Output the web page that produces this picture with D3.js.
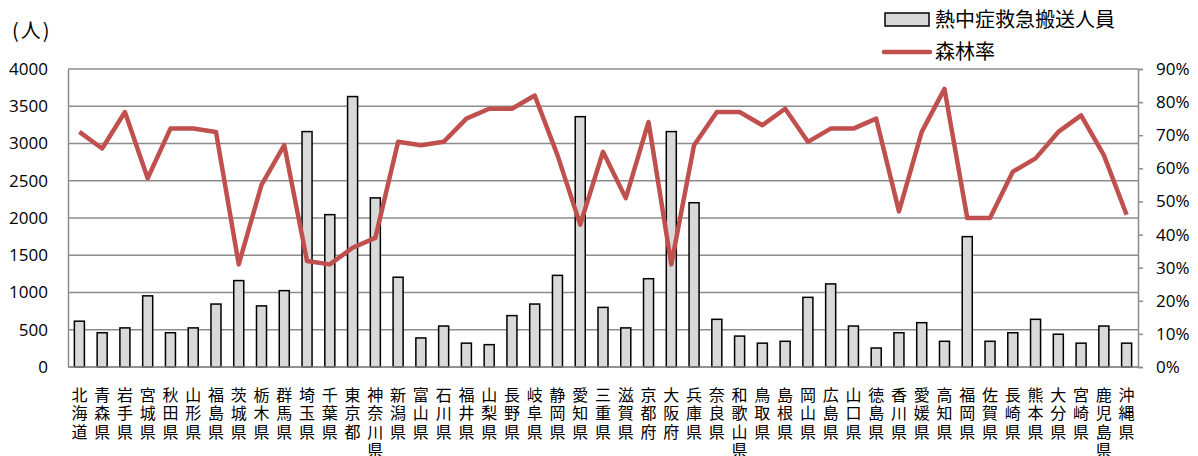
<!DOCTYPE html>
<html>
<head>
<meta charset="utf-8">
<script src="https://cdn.jsdelivr.net/npm/d3@7"></script>
<style>
  body { margin: 0; background: #fff; }
  svg { display: block; font-family: "Noto Sans CJK JP", "Noto Sans", sans-serif; }
</style>
</head>
<body>
<div id="graph-area"></div>
<script>

// prefectures (x categories)
var prefectures = ["北海道","青森県","岩手県","宮城県","秋田県","山形県","福島県","茨城県","栃木県","群馬県",
	"埼玉県","千葉県","東京都","神奈川県","新潟県","富山県","石川県","福井県","山梨県","長野県",
	"岐阜県","静岡県","愛知県","三重県","滋賀県","京都府","大阪府","兵庫県","奈良県","和歌山県",
	"鳥取県","島根県","岡山県","広島県","山口県","徳島県","香川県","愛媛県","高知県","福岡県",
	"佐賀県","長崎県","熊本県","大分県","宮崎県","鹿児島県","沖縄県"];

// 熱中症救急搬送人員 (people)
var heatstroke = [615,460,525,955,460,525,845,1160,820,1025,
	3160,2045,3630,2270,1205,390,550,320,300,690,
	845,1230,3360,800,525,1185,3160,2205,640,415,
	320,345,935,1115,550,255,460,595,345,1750,
	345,460,640,440,320,550,320];

// 森林率 (%)
var forestRate = [71,66,77,57,72,72,71,31,55,67,
	32,31,36,39,68,67,68,75,78,78,
	82,64,43,65,51,74,31,67,77,77,
	73,78,68,72,72,75,47,71,84,45,
	45,59,63,71,76,64,46];

var leftTicks = [0,500,1000,1500,2000,2500,3000,3500,4000];
var rightTicks = [0,10,20,30,40,50,60,70,80,90];

var seriesNames = ["熱中症救急搬送人員","森林率"];
var unitLabel = "(人)";

var W = 1198, H = 456;
var plot = {left: 68, right: 1138, top: 69, bottom: 367};

var svg = d3.select("div#graph-area").append("svg")
	.attr("width", W)
	.attr("height", H);

var x = d3.scaleBand()
	.domain(prefectures)
	.range([plot.left, plot.right])
	.paddingInner(0.56)
	.paddingOuter(0.28);

var yL = d3.scaleLinear().domain([0, 4000]).range([plot.bottom, plot.top]);
var yR = d3.scaleLinear().domain([0, 90]).range([plot.bottom, plot.top]);

// gridlines (left axis)
svg.append("g").attr("class", "grid")
	.selectAll("line").data(leftTicks).enter().append("line")
	.attr("x1", plot.left).attr("x2", plot.right)
	.attr("y1", function(d) { return yL(d); })
	.attr("y2", function(d) { return yL(d); })
	.attr("stroke", "#8c8c8c")
	.attr("stroke-width", 1.5);

// left axis
var axisL = svg.append("g")
	.attr("transform", "translate(" + plot.left + ",0)")
	.call(d3.axisLeft(yL).tickValues(leftTicks).tickSize(0).tickPadding(20)
		.tickFormat(d3.format("d")));
axisL.select(".domain").attr("stroke", "#8c8c8c").attr("stroke-width", 1.5);
axisL.selectAll("text").attr("font-size", 17).attr("fill", "#000")
	.attr("font-family", "'Open Sans', sans-serif");

// right axis
var axisR = svg.append("g")
	.attr("transform", "translate(" + plot.right + ",0)")
	.call(d3.axisRight(yR).tickValues(rightTicks).tickSize(5).tickPadding(13)
		.tickFormat(function(d) { return d + "%"; }));
axisR.select(".domain").attr("stroke", "#8c8c8c").attr("stroke-width", 1.5);
axisR.selectAll(".tick line").attr("stroke", "#8c8c8c").attr("stroke-width", 1.5);
axisR.selectAll("text").attr("font-size", 17).attr("fill", "#000")
	.attr("font-family", "'Open Sans', sans-serif");

// bars
svg.append("g").attr("class", "bars")
	.selectAll("rect").data(heatstroke).enter().append("rect")
	.attr("x", function(d, i) { return x(prefectures[i]); })
	.attr("width", x.bandwidth())
	.attr("y", function(d) { return yL(d); })
	.attr("height", function(d) { return yL(0) - yL(d); })
	.attr("fill", "#d9d9d9")
	.attr("stroke", "#000")
	.attr("stroke-width", 1.5);

// bottom axis line
svg.append("line")
	.attr("x1", plot.left).attr("x2", plot.right)
	.attr("y1", plot.bottom).attr("y2", plot.bottom)
	.attr("stroke", "#8c8c8c").attr("stroke-width", 1.5);

// forest rate line
var line = d3.line()
	.x(function(d, i) { return x(prefectures[i]) + x.bandwidth() / 2; })
	.y(function(d) { return yR(d); });

svg.append("path")
	.datum(forestRate)
	.attr("d", line)
	.attr("fill", "none")
	.attr("stroke", "#c0504d")
	.attr("stroke-width", 4.5)
	.attr("stroke-linejoin", "round");

// category labels, written vertically one char per row
var labels = svg.append("g").attr("class", "xlabels")
	.selectAll("text").data(prefectures).enter().append("text")
	.attr("font-size", 16)
	.attr("text-anchor", "middle")
	.attr("fill", "#000");

labels.each(function(name) {
	var t = d3.select(this);
	var cx = x(name) + x.bandwidth() / 2;
	name.split("").forEach(function(ch, k) {
		t.append("tspan")
			.attr("x", cx)
			.attr("y", 401 + k * 18.3)
			.text(ch);
	});
});

// unit label
svg.append("text")
	.attr("x", 12).attr("y", 38)
	.attr("font-size", 20)
	.attr("letter-spacing", 2)
	.text(unitLabel);

// legend
var legend = svg.append("g").attr("class", "legend");
legend.append("rect")
	.attr("x", 885).attr("y", 13)
	.attr("width", 44).attr("height", 13)
	.attr("fill", "#d9d9d9").attr("stroke", "#000").attr("stroke-width", 1.5);
legend.append("text")
	.attr("x", 935).attr("y", 27)
	.attr("font-size", 20)
	.text(seriesNames[0]);
legend.append("line")
	.attr("x1", 884).attr("x2", 930)
	.attr("y1", 52).attr("y2", 52)
	.attr("stroke", "#c0504d").attr("stroke-width", 4.5)
	.attr("stroke-linecap", "round");
legend.append("text")
	.attr("x", 935).attr("y", 59)
	.attr("font-size", 20)
	.text(seriesNames[1]);

</script>
</body>
</html>
